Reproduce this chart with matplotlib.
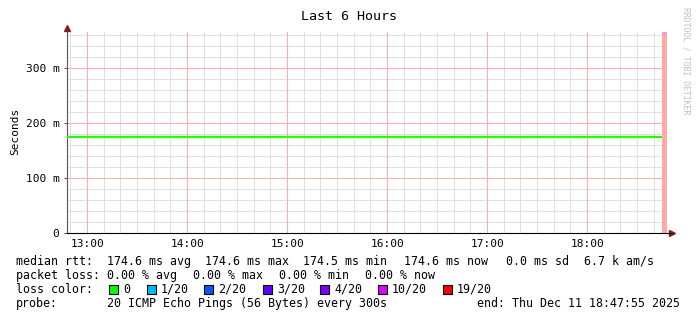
import matplotlib.pyplot as plt
import numpy as np
import matplotlib as mpl

mpl.rcParams['font.family'] = 'DejaVu Sans Mono'

# time axis in hours of the day, 6 hours ending 18:47:55
t_end = 18 + 47/60 + 55/3600
t_start = t_end - 6
rtt_end = 18 + 45/60  # last complete 300s step

# median rtt (seconds), flat over the window
rtt_median = 0.1746

hour_ticks = [13, 14, 15, 16, 17, 18]
hour_labels = ['13:00', '14:00', '15:00', '16:00', '17:00', '18:00']
y_ticks = [0, 0.1, 0.2, 0.3]
y_labels = ['0', '100 m', '200 m', '300 m']

loss_labels = ['0', '1/20', '2/20', '3/20', '4/20', '10/20', '19/20']
loss_colors = ['#00ff00', '#00b8ff', '#0059ff', '#5e00ff', '#7e00ff', '#dd00ff', '#ff0000']

W, H = 697, 321
fig = plt.figure(figsize=(W/100, H/100), dpi=100)
ax = fig.add_axes([67/W, 1-233/H, 600/W, 201/H])

ax.set_xlim(t_start, t_end)
ax.set_ylim(0, 0.3655)

# grid: minor gray, major red
for x in np.arange(12 + 50/60, 18.8, 10/60):
    if t_start < x < t_end:
        ax.axvline(x, color='#e0e0e0', lw=0.75, zorder=0)
for y in np.arange(0.02, 0.37, 0.02):
    ax.axhline(y, color='#e0e0e0', lw=0.75, zorder=0)
for x in hour_ticks:
    ax.axvline(x, color='#f5b0b0', lw=0.75, zorder=1)
for y in y_ticks[1:]:
    ax.axhline(y, color='#f5b0b0', lw=0.75, zorder=1)

# unknown last step
ax.axvspan(rtt_end, t_end - 0.2/60, color='#ffaaaa', lw=0, zorder=2)
ax.plot([rtt_end, t_end - 0.2/60], [0.364, 0.364], color='#cc99ee', lw=1.0, zorder=3)

ax.plot([t_start, rtt_end], [rtt_median, rtt_median], color='#22ff00', lw=1.6, zorder=4,
        solid_capstyle='butt')

for s in ['top', 'right']:
    ax.spines[s].set_visible(False)
ax.spines['left'].set_color('#555555')
ax.spines['bottom'].set_color('black')
ax.spines['bottom'].set_bounds(t_start, t_end + 3/60)

ax.set_xticks(hour_ticks)
ax.set_xticklabels(hour_labels)
ax.set_yticks(y_ticks)
ax.set_yticklabels(y_labels)
ax.tick_params(axis='both', labelsize=8, length=2.5, width=0.75, color='#555555', pad=3)
ax.tick_params(axis='x', length=0, pad=4)

# axis arrows
ax.plot(1.0 + 5/600, 0, marker='>', color='#8b1a1a', ms=4, transform=ax.transAxes, clip_on=False)
ax.plot(0, 1.0 + 4/201, marker='^', color='#8b1a1a', ms=4, transform=ax.transAxes, clip_on=False)

fig.text(15/W, 1-131/H, 'Seconds', rotation=90, fontsize=8, ha='center', va='center')
fig.text(349/W, 1-16/H, 'Last 6 Hours', fontsize=9.6, ha='center', va='center')
fig.text(686/W, 1-7/H, 'RRDTOOL / TOBI OETIKER', rotation=270, fontsize=5.9,
         color='#c0c0c0', ha='center', va='top')

fs = 8.35
def line(y, parts):
    # y is the text baseline in pixels
    for xp, s in parts:
        fig.text(xp/W, 1-y/H, s, fontsize=fs, va='baseline')

line(265, [(16, 'median rtt:'), (107, '174.6 ms avg'), (205, '174.6 ms max'),
           (303, '174.5 ms min'), (404, '174.6 ms now'), (506, '0.0 ms sd'), (584, '6.7 k am/s')])
line(279, [(16, 'packet loss:'), (107, '0.00 % avg'), (193, '0.00 % max'),
           (279, '0.00 % min'), (365, '0.00 % now')])
line(293, [(16, 'loss color:')])
sq_x = [109, 147, 204, 263, 320, 378, 443]
for xs, lab, col in zip(sq_x, loss_labels, loss_colors):
    fig.patches.append(mpl.patches.Rectangle((xs/W, 1-294/H), 9/W, 9/H, facecolor=col,
                                             edgecolor='black', lw=0.8, transform=fig.transFigure))
    fig.text((xs+14)/W, 1-293/H, lab, fontsize=fs, va='baseline')
line(307, [(16, 'probe:'), (107, '20 ICMP Echo Pings (56 Bytes) every 300s')])
fig.text(680/W, 1-307/H, 'end: Thu Dec 11 18:47:55 2025', fontsize=fs, va='baseline', ha='right')

plt.savefig('out.png', dpi=100)
